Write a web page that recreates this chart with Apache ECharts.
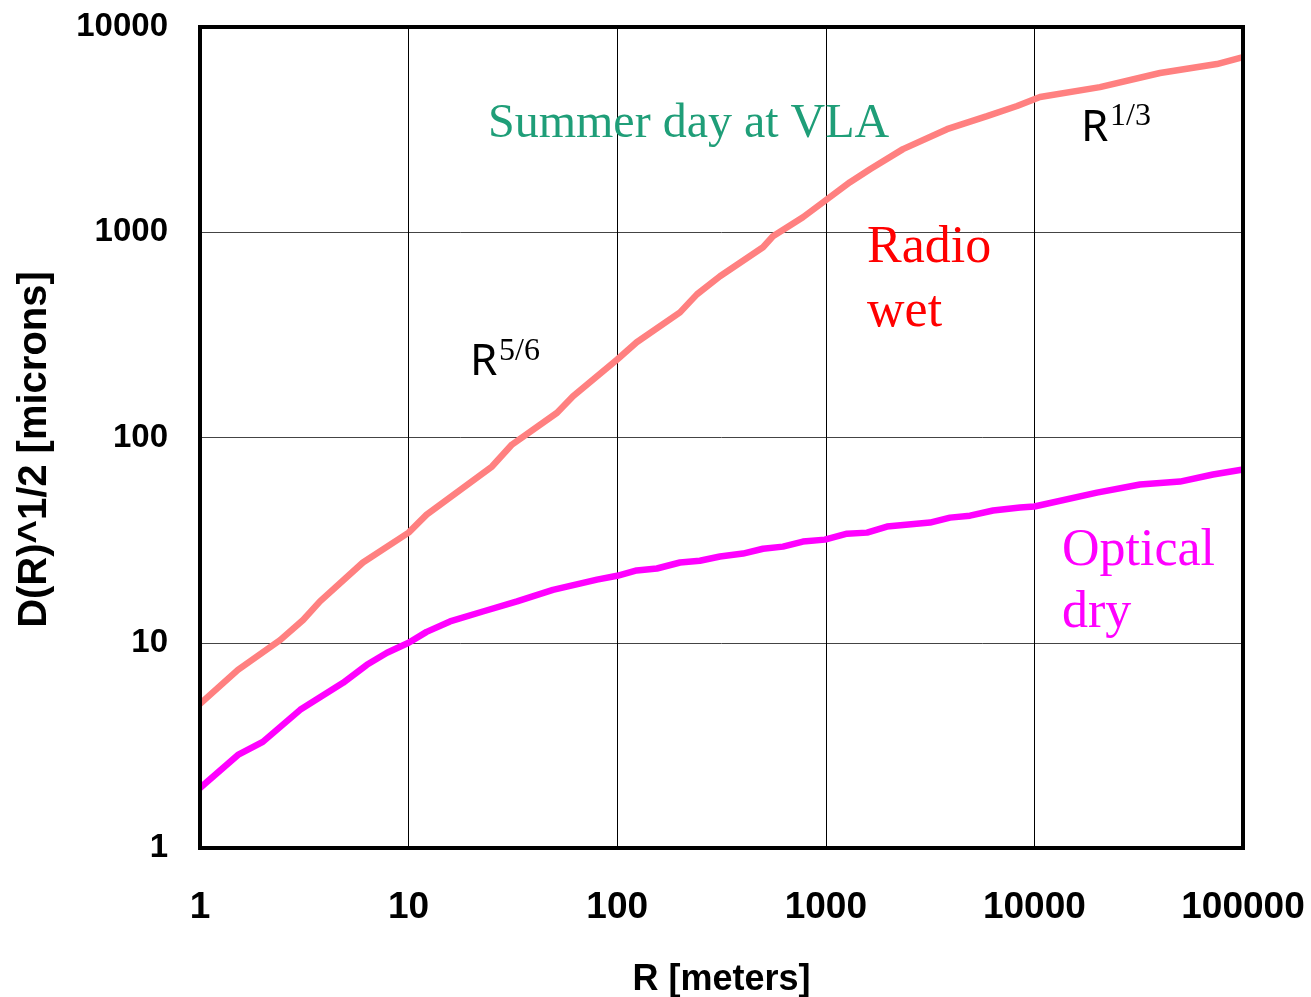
<!DOCTYPE html>
<html>
<head>
<meta charset="utf-8">
<title>Structure function D(R)^1/2</title>
<script src="https://cdn.jsdelivr.net/npm/echarts@6/dist/echarts.min.js"></script>
<style>
  html, body { margin: 0; padding: 0; background: #fff; }
  #chart { width: 1311px; height: 997px; }
</style>
</head>
<body>
<div id="chart"></div>
<script>
// Baseline R [meters] and sqrt of phase structure function [microns]
const radioR = [1, 1.52, 2.42, 3.12, 3.76, 6.04, 10, 12.2, 25.1, 31.3, 51.5, 61.4, 100, 124, 200, 241, 311, 500, 558, 777, 970, 1306, 1629, 2344, 3811, 5929, 8260, 10640, 20620, 40000, 75000, 100000];
const radioD = [5.04, 7.38, 10.3, 12.9, 15.9, 24.6, 34.4, 42.1, 72.2, 92.4, 132, 159, 240, 291, 407, 498, 610, 845, 956, 1183, 1400, 1754, 2028, 2541, 3178, 3680, 4120, 4557, 5096, 5970, 6600, 7140];

const opticalR = [1, 1.52, 2.0, 3.02, 4.85, 6.31, 7.88, 10, 12.2, 15.8, 22.7, 33.1, 49.2, 80, 100, 124, 155, 200, 249, 311, 401, 500, 623, 777, 990, 1264, 1577, 1965, 3160, 3940, 4911, 6340, 8530, 10000, 19950, 32100, 49900, 71800, 100000];
const opticalD = [1.96, 2.84, 3.29, 4.71, 6.38, 7.81, 8.94, 10, 11.3, 12.7, 14.2, 15.9, 18.1, 20.3, 21.2, 22.5, 23.0, 24.6, 25.1, 26.3, 27.2, 28.7, 29.4, 31.1, 31.8, 34.0, 34.4, 36.8, 38.5, 40.7, 41.6, 44.1, 45.6, 46.1, 53.9, 59, 61, 66, 69.8];

const xRange = [1, 100000];
const yRange = [1, 10000];

const zip = (xs, ys) => xs.map((x, i) => [x, ys[i]]);
const plainNumber = v => String(Math.round(v));

const sans = '"Liberation Sans", Arial, sans-serif';
const serif = '"Liberation Serif", "Times New Roman", serif';
const plain = '"Noto Sans", "DejaVu Sans", sans-serif';

function label(text, x, y, size, family, color) {
  return {
    type: 'text', x: x, y: y, z: 100,
    style: { text: text, fontSize: size, fontFamily: family, fill: color,
             align: 'left', verticalAlign: 'middle' }
  };
}

const chart = echarts.init(document.getElementById('chart'), null, { renderer: 'canvas' });
chart.setOption({
  backgroundColor: '#fff',
  animation: false,
  grid: { left: 200, right: 68, top: 27, bottom: 149, show: true, outerBoundsMode: 'none',
          containLabel: false,
          borderColor: '#000', borderWidth: 4, backgroundColor: 'transparent', z: 10 },
  xAxis: {
    type: 'log', logBase: 10, min: xRange[0], max: xRange[1],
    name: 'R [meters]', nameLocation: 'middle', nameGap: 114,
    nameTextStyle: { fontFamily: sans, fontWeight: 'bold', fontSize: 36, color: '#000' },
    axisLine: { show: false }, axisTick: { show: false },
    axisLabel: { margin: 41, fontFamily: sans, fontWeight: 'bold', fontSize: 37, color: '#000',
                 formatter: plainNumber },
    splitLine: { show: true, lineStyle: { color: '#000', width: 1 } },
    minorSplitLine: { show: false }
  },
  yAxis: {
    type: 'log', logBase: 10, min: yRange[0], max: yRange[1],
    name: 'D(R)^1/2 [microns]', nameLocation: 'middle', nameGap: 145,
    nameTextStyle: { fontFamily: sans, fontWeight: 'bold', fontSize: 40, color: '#000',
                     padding: [0, 24, 0, 0] },
    axisLine: { show: false }, axisTick: { show: false },
    axisLabel: { margin: 32, fontFamily: sans, fontWeight: 'bold', fontSize: 33, color: '#000',
                 formatter: plainNumber },
    splitLine: { show: true, lineStyle: { color: '#444', width: 1 } }
  },
  series: [
    { name: 'Radio wet', type: 'line', data: zip(radioR, radioD), showSymbol: false,
      lineStyle: { color: '#FF8080', width: 6.5 }, z: 5 },
    { name: 'Optical dry', type: 'line', data: zip(opticalR, opticalD), showSymbol: false,
      lineStyle: { color: '#FF00FF', width: 6.5 }, z: 5 }
  ],
  graphic: [
    label('Summer day at VLA', 488, 124, 48, serif, '#1F9E78'),
    label('Radio', 867, 248, 52, serif, '#FF0000'),
    label('wet', 867, 312, 52, serif, '#FF0000'),
    label('Optical', 1062, 551, 52, serif, '#FF00FF'),
    label('dry', 1062, 613, 52, serif, '#FF00FF'),
    label('R', 470, 362, 44, plain, '#000'),
    label('5/6', 499, 352, 32, serif, '#000'),
    label('R', 1081, 128, 44, plain, '#000'),
    label('1/3', 1110, 117, 32, serif, '#000')
  ]
});
</script>
</body>
</html>
